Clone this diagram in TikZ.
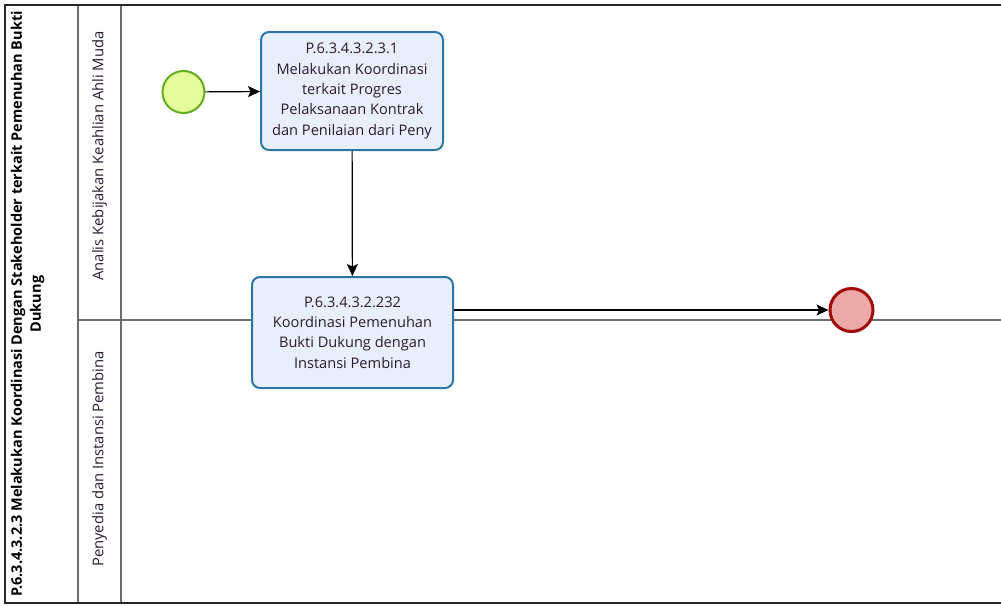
\documentclass[tikz,border=0pt]{standalone}
\usepackage{fontspec}
\setmainfont{Open Sans}
\usetikzlibrary{arrows.meta}
\definecolor{taskfill}{HTML}{E9EEFB}
\definecolor{taskdraw}{HTML}{2A77A6}
\definecolor{startfill}{HTML}{E4FC9C}
\definecolor{startdraw}{HTML}{64AC1E}
\definecolor{endfill}{HTML}{EDA8A8}
\definecolor{enddraw}{HTML}{A00A0A}
\definecolor{lanegray}{HTML}{6E6E6E}
\definecolor{txt}{HTML}{2A1A33}
\tikzset{
  taskbox/.style={draw=taskdraw, fill=taskfill, line width=2pt, rounded corners=8pt,
    align=center, font=\fontsize{14.6}{20.3}\selectfont, text=txt, inner sep=0pt},
  startev/.style={circle, draw=startdraw, fill=startfill, line width=2pt, minimum size=42pt, inner sep=0pt},
  endev/.style={circle, draw=enddraw, fill=endfill, line width=3pt, minimum size=43pt, inner sep=0pt},
  flow/.style={draw=black, line width=1.2pt, -{Stealth[length=12pt,width=11pt,inset=2.5pt]}},
  poolline/.style={draw=black!85, line width=1.6pt},
  laneline/.style={draw=lanegray, line width=1.3pt},
  lanelabel/.style={rotate=90, font=\fontsize{14.8}{17}\selectfont, text=txt},
}
\begin{document}
\begin{tikzpicture}[x=1pt, y=-1pt]
\useasboundingbox (0,0) rectangle (1001,605);
% pool and lanes
\draw[laneline] (78,5) -- (78,603);
\draw[laneline] (121,5) -- (121,603);
\draw[laneline] (78,320) -- (1001,320);
\draw[poolline] (1001,5) -- (5,5) -- (5,603) -- (1001,603);
% titles
\node[rotate=90, align=center, font=\bfseries\fontsize{14.5}{19}\selectfont, text=black] (pooltitle) at (27.5,304)
  {P.6.3.4.3.2.3 Melakukan Koordinasi Dengan Stakeholder terkait Pemenuhan Bukti\\Dukung};
\node[lanelabel] (lane1) at (99.5,156) {Analis Kebijakan Keahlian Ahli Muda};
\node[lanelabel] (lane2) at (99.5,459) {Penyedia dan Instansi Pembina};
% elements
\node[startev] (start) at (183.5,92) {};
\node[taskbox, minimum width=182pt, minimum height=118pt] (task1) at (352,91)
  {\raisebox{-3pt}{\parbox{182pt}{\centering P.6.3.4.3.2.3.1\\Melakukan Koordinasi\\terkait Progres\\Pelaksanaan Kontrak\\dan Penilaian dari Peny}}};
\node[taskbox, minimum width=201pt, minimum height=111pt] (task2) at (352.5,332.5)
  {P.6.3.4.3.2.232\\Koordinasi Pemenuhan\\Bukti Dukung dengan\\Instansi Pembina};
\node[endev] (end) at (851.5,310) {};
% flows
\draw[flow] (start) -- (task1);
\draw[flow] (task1) -- (task2);
\draw[flow] (task2.east |- end.west) -- (end.west);
\end{tikzpicture}
\end{document}
